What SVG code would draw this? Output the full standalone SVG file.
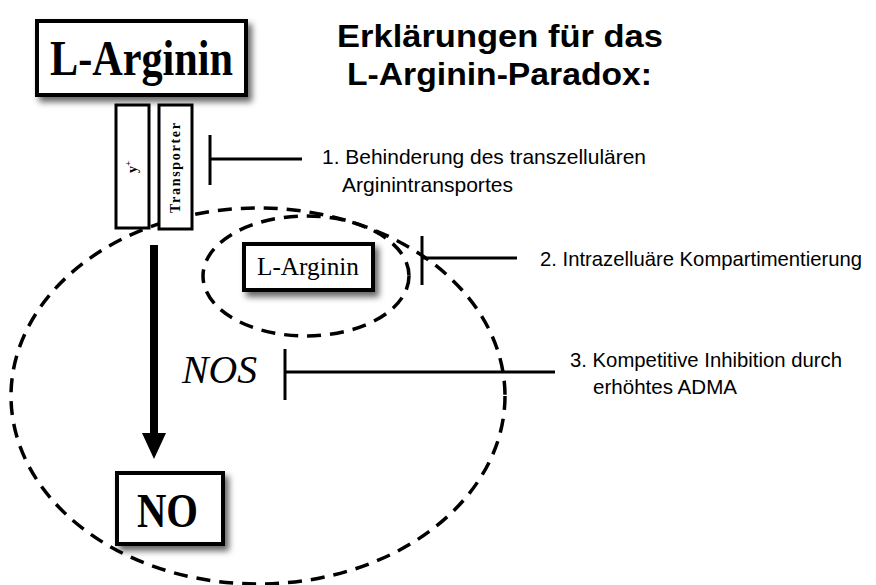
<svg xmlns="http://www.w3.org/2000/svg" width="876" height="585" viewBox="0 0 876 585">
<defs>
<filter id="sh" x="-20%" y="-20%" width="150%" height="160%">
<feDropShadow dx="4" dy="5" stdDeviation="3" flood-color="#000" flood-opacity="0.6"/>
</filter>
</defs>
<style>
.box{fill:#fff;stroke:#000;stroke-width:4}
.thin{fill:#fff;stroke:#000;stroke-width:3}
.dash{fill:none;stroke:#000;stroke-width:3.5;stroke-dasharray:14 9}
.inh{stroke:#000;stroke-width:3;fill:none}
.tm{font-family:"Liberation Serif","Times New Roman",serif;fill:#000}
.sn{font-family:"Liberation Sans",Arial,sans-serif;fill:#000}
</style>
<rect width="876" height="585" fill="#fff"/>

<g id="title">
<text class="sn" x="337" y="47" font-size="32" font-weight="bold" textLength="326" lengthAdjust="spacingAndGlyphs">Erklärungen für das</text>
<text class="sn" x="347" y="85" font-size="32" font-weight="bold" textLength="305" lengthAdjust="spacingAndGlyphs">L-Arginin-Paradox:</text>
</g>

<g id="cell">
<ellipse class="dash" cx="258" cy="396" rx="247" ry="188"/>
</g>
<g id="compartment">
<ellipse class="dash" cx="306" cy="276" rx="103" ry="60"/>
</g>

<g id="larginin-main">
<rect class="box" x="37" y="21" width="209" height="74" filter="url(#sh)"/>
<text class="tm" x="50" y="75" font-size="50" font-weight="bold" textLength="183" lengthAdjust="spacingAndGlyphs">L-Arginin</text>
</g>

<g id="y-plus">
<rect class="thin" x="116" y="105" width="33" height="123"/>
<text class="tm" transform="translate(137,167) rotate(-90)" text-anchor="middle" font-size="14" font-weight="bold">y<tspan dy="-6" font-size="9">+</tspan></text>
</g>

<g id="transporter">
<rect class="thin" x="159" y="105" width="33" height="124"/>
<text class="tm" transform="translate(180,168) rotate(-90)" text-anchor="middle" font-size="14" font-weight="bold" textLength="90" lengthAdjust="spacing">Transporter</text>
</g>

<g id="larginin-small">
<rect class="box" x="244" y="244" width="129" height="46" filter="url(#sh)"/>
<text class="tm" x="257" y="275" font-size="25" textLength="102" lengthAdjust="spacingAndGlyphs">L-Arginin</text>
</g>

<g id="nos">
<text class="tm" x="182" y="383" font-size="40" font-style="italic" textLength="75" lengthAdjust="spacingAndGlyphs">NOS</text>
</g>

<g id="no">
<rect class="box" x="117" y="473" width="106" height="71" filter="url(#sh)"/>
<text class="tm" x="137" y="527" font-size="48" font-weight="bold" textLength="61" lengthAdjust="spacingAndGlyphs">NO</text>
</g>

<g id="connectors">
<line x1="154" y1="245" x2="154" y2="436" stroke="#000" stroke-width="8"/>
<polygon points="142,433 166,433 154,459" fill="#000"/>
<line class="inh" x1="210" y1="159" x2="302" y2="159"/>
<line class="inh" x1="210" y1="135" x2="210" y2="185"/>
<line class="inh" x1="422" y1="258" x2="517" y2="258"/>
<line class="inh" x1="422" y1="236" x2="422" y2="285"/>
<line class="inh" x1="285" y1="372" x2="555" y2="372"/>
<line class="inh" x1="285" y1="349" x2="285" y2="400"/>
</g>

<g id="label1">
<text class="sn" x="322" y="164" font-size="21" textLength="324" lengthAdjust="spacingAndGlyphs">1. Behinderung des transzellulären</text>
<text class="sn" x="342" y="192" font-size="21" textLength="171" lengthAdjust="spacingAndGlyphs">Arginintransportes</text>
</g>
<g id="label2">
<text class="sn" x="540" y="266" font-size="21" textLength="322" lengthAdjust="spacingAndGlyphs">2. Intrazelluäre Kompartimentierung</text>
</g>
<g id="label3">
<text class="sn" x="570" y="367" font-size="21" textLength="272" lengthAdjust="spacingAndGlyphs">3. Kompetitive Inhibition durch</text>
<text class="sn" x="593" y="394" font-size="21" textLength="144" lengthAdjust="spacingAndGlyphs">erhöhtes ADMA</text>
</g>
</svg>
